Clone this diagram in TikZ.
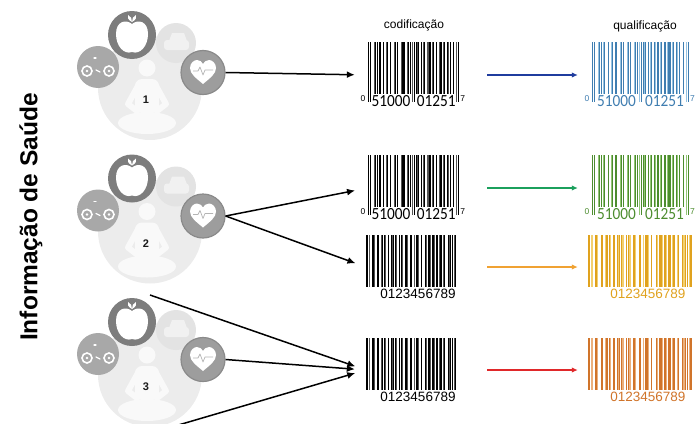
\documentclass[tikz,border=0pt]{standalone}
\usepackage{fontspec}
\setmainfont{Liberation Sans}
\newfontfamily\upcfont[FakeStretch=0.9]{Carlito}
\usetikzlibrary{arrows.meta}

% greys of the health badges
\definecolor{backdisc}{HTML}{ECECEC}
\definecolor{fadedisc}{HTML}{E3E3E3}
\definecolor{fadeicon}{HTML}{F1F1F1}
\definecolor{seatfig}{HTML}{F9F9F9}
\definecolor{applering}{HTML}{7D7D7D}
\definecolor{bikedisc}{HTML}{A8A8A8}
\definecolor{heartgray}{HTML}{9D9D9D}
\definecolor{heartring}{HTML}{8A8A8A}
\definecolor{pulsegray}{HTML}{B4B4B4}
\definecolor{numdark}{HTML}{1A1A1A}
% barcode inks
\definecolor{bcgray}{HTML}{555555}
\definecolor{bluedark}{HTML}{3F7DB0}
\definecolor{bluelight}{HTML}{94C2E2}
\definecolor{greendark}{HTML}{4C8C2E}
\definecolor{greenlight}{HTML}{92C674}
\definecolor{yellowdark}{HTML}{E0A21E}
\definecolor{yellowlight}{HTML}{F3D070}
\definecolor{orangedark}{HTML}{D0742A}
\definecolor{orangelight}{HTML}{EBB07C}
% arrow inks
\definecolor{arrblue}{HTML}{1F3C9E}
\definecolor{arrgreen}{HTML}{1BA05C}
\definecolor{arrorange}{HTML}{F0A232}
\definecolor{arrred}{HTML}{E0282A}

% ---- barcode drawing: one filled module per '1' in a bit string ----
\newcount\bcpos
\newcount\bcmod
\newif\ifbcguard
\def\bcbar{%
  \bcguardfalse
  \ifnum\bcupc=1\relax
    \ifnum\bcpos<3 \bcguardtrue\fi
    \ifnum\bcpos>44 \ifnum\bcpos<50 \bcguardtrue\fi\fi
    \ifnum\bcpos>91 \bcguardtrue\fi
  \fi
  \advance\bcmod by 1
  \ifnum\bcmod>2 \bcmod=0 \fi
  \ifnum\bcmod=0 \def\bccol{\bclight}\else\def\bccol{\bcdark}\fi
  \ifbcguard\def\bcht{\bcg}\else\def\bcht{\bch}\fi
  \fill[fill=\bccol] (\bcx+\the\bcpos*\bcm-0.05, \bcy) rectangle ++(\bcm+0.1, \bcht);%
}
\def\bcloop#1{\ifx\relax#1\else\ifnum#1=1 \bcbar\fi\advance\bcpos by 1 \expandafter\bcloop\fi}

% UPC-A 0 51000 01251 7 : x, top, module, dark ink, light ink, text ink, name
\newcommand\upcsymbol[7]{%
  \def\bcx{#1}\def\bcy{#2}\def\bcm{#3}\def\bch{52}\def\bcg{60}\def\bcupc{1}%
  \def\bcdark{#4}\def\bclight{#5}%
  \bcpos=0 \bcmod=0
  \bcloop 101 0001101 0110001 0011001 0001101 0001101 0001101 01010
          1110010 1100110 1101100 1001110 1100110 1000100 101\relax
  \node[upcdigits, text=#6] (#7-left) at (#1+24*#3, #2+59) {51000};
  \node[upcdigits, text=#6] (#7-right) at (#1+71*#3, #2+59) {01251};
  \node[upcsmall, text=#6] (#7-sys) at (#1-5, #2+57) {0};
  \node[upcsmall, text=#6] (#7-chk) at (#1+95*#3+3.5, #2+57) {7};
  \node[slot, minimum width=95*#3] (#7) at (#1+47.5*#3, #2+33) {};
}

% linear symbol for 0123456789 : x, top, module, dark ink, light ink, text ink, name
\newcommand\codesymbol[7]{%
  \def\bcx{#1}\def\bcy{#2}\def\bcm{#3}\def\bch{52}\def\bcg{52}\def\bcupc{0}%
  \def\bcdark{#4}\def\bclight{#5}%
  \bcpos=0 \bcmod=0
  \bcloop 11010011100 11001101100 10011101100 10110011100 11001011100
          10001101110 11101101110 1100011101011\relax
  \node[codedigits, text=#6] (#7-text) at (#1+52*#3, #2+59) {0123456789};
  \node[slot, minimum width=90*#3] (#7) at (#1+45*#3, #2+32) {};
}

% ---- one cluster of health badges around a seated figure ----
\newcommand\healthgroup[3]{%
  \begin{scope}[shift={(0,#1)}]
    % pale backdrop and the faded badge behind it
    \fill[backdisc] (150,88) circle (52pt);
    \fill[fadedisc] (176,43) circle (20pt);
    \fill[fadeicon, rounded corners=3pt] (164,40) rectangle (189,50);
    \fill[fadeicon] (169,41) -- (172,33) -- (184,33) -- (187,41) -- cycle;
    % seated figure
    \fill[seatfig] (147,68) circle (8.5pt);
    \fill[seatfig, rounded corners=7pt] (135,79) rectangle (159,113);
    \fill[seatfig] (147,123) ellipse (29pt and 11pt);
    \draw[seatfig, line width=6pt, line cap=round, line join=round]
      (139,84) -- (128,104) -- (137,111) (155,84) -- (166,104) -- (157,111);
    % bicycle badge
    \fill[bikedisc] (98,67) circle (21pt);
    \draw[white, line width=1.6pt] (87,71) circle (5pt) (109,71) circle (5pt);
    \fill[white] (87,71) circle (1.4pt) (109,71) circle (1.4pt);
    \draw[white, line width=1.3pt, line cap=round] (96,70) -- (100,72);
    \draw[white, line width=1.3pt, line cap=round] (94,58) -- (96,58);
    % apple badge
    \fill[applering] (132,35) circle (24pt);
    \fill[white] (132,24) .. controls (126,19) and (116,21) .. (116,34)
      .. controls (116,46) and (124,55) .. (132,52)
      .. controls (140,55) and (148,46) .. (148,34)
      .. controls (148,21) and (138,19) .. (132,24) -- cycle;
    \fill[white] (132,22) .. controls (128,20) and (127,17) .. (128,15)
      .. controls (131,16) and (132,19) .. (132,22) -- cycle;
    \fill[white] (132,22) .. controls (136,20) and (137,17) .. (136,15)
      .. controls (133,16) and (132,19) .. (132,22) -- cycle;
    % heart badge
    \node[heartbadge] (heart#3) at (203,72.5) {};
    \fill[white] (203,84) .. controls (196,78) and (190,74) .. (190,68)
      .. controls (190,63) and (194,60) .. (197,60)
      .. controls (200,60) and (202,62) .. (203,64)
      .. controls (204,62) and (206,60) .. (209,60)
      .. controls (212,60) and (216,63) .. (216,68)
      .. controls (216,74) and (210,78) .. (203,84) -- cycle;
    \draw[pulsegray, line width=0.7pt, line join=round]
      (193,71) -- (198,71) -- (200,67) -- (203,75) -- (205,70) -- (213,70);
    % group number
    \node[numlabel] (num#3) at (146,100) {#2};
  \end{scope}%
}

\begin{document}
\begin{tikzpicture}[x=1pt, y=-1pt,
  arrblack/.style={draw=black, line width=1.5pt, -{Latex[length=8pt,width=7pt]}},
  arrcol/.style={line width=1.4pt, -{Latex[length=6pt,width=5.5pt]}},
  heartbadge/.style={circle, inner sep=0pt, minimum size=44pt, fill=heartgray,
                     draw=heartring, line width=1.2pt},
  numlabel/.style={font=\bfseries\fontsize{11}{13}\selectfont, text=numdark, inner sep=0pt},
  slot/.style={rectangle, inner sep=0pt, minimum height=10pt},
  upcdigits/.style={font=\upcfont\fontsize{17}{18}\selectfont, inner sep=0pt},
  upcsmall/.style={font=\fontsize{8.5}{9}\selectfont, inner sep=0pt},
  codedigits/.style={font=\fontsize{13.5}{15}\selectfont, inner sep=0pt},
  caption/.style={font=\fontsize{12}{14}\selectfont, inner sep=0pt},
]
\useasboundingbox (0,0) rectangle (700,423);
\clip (0,0) rectangle (700,423);

% badge clusters
\healthgroup{0}{1}{1}
\healthgroup{143.5}{2}{2}
\healthgroup{287}{3}{3}

% column titles
\node[caption] (coding) at (414,25) {codificação};
\node[caption] (qualifying) at (645,26) {qualificação};

% coded symbols
\upcsymbol{368}{42}{0.96}{black}{bcgray}{black}{code1}
\upcsymbol{368}{155}{0.96}{black}{bcgray}{black}{code2}
\codesymbol{366}{235}{1.0}{black}{bcgray}{black}{code3}
\codesymbol{366}{338}{1.0}{black}{bcgray}{black}{code4}

% qualified symbols
\upcsymbol{592}{42}{1.02}{bluedark}{bluelight}{bluedark}{qual1}
\upcsymbol{592}{155}{1.02}{greendark}{greenlight}{greendark}{qual2}
\codesymbol{588}{235}{1.15}{yellowdark}{yellowlight}{yellowdark}{qual3}
\codesymbol{588}{338}{1.15}{orangedark}{orangelight}{orangedark}{qual4}

% free ends of the third cluster
\coordinate (g3top) at (150,295);
\coordinate (g3bot) at (175,426);

% information to coding
\draw[arrblack, shorten >=13pt] (heart1.east) -- (code1.west);
\draw[arrblack, shorten >=13pt] (heart2.east) -- (code2.west);
\draw[arrblack, shorten >=11pt] (heart2.east) -- (code3.west);
\draw[arrblack, shorten >=11pt] (g3top) -- (code4.west);
\draw[arrblack, shorten >=11pt] (heart3.east) -- (code4.west);
\draw[arrblack, shorten >=11pt] (g3bot) -- (code4.west);

% coding to qualification
\draw[arrcol, draw=arrblue, shorten <=28pt, shorten >=14pt] (code1.east) -- (qual1.west);
\draw[arrcol, draw=arrgreen, shorten <=28pt, shorten >=14pt] (code2.east) -- (qual2.west);
\draw[arrcol, draw=arrorange, shorten <=31pt, shorten >=10pt] (code3.east) -- (qual3.west);
\draw[arrcol, draw=arrred, shorten <=31pt, shorten >=10pt] (code4.east) -- (qual4.west);

% side title
\node[rotate=90, font=\bfseries\fontsize{24.5}{28}\selectfont, inner sep=0pt]
  (title) at (31,217) {Informação de Saúde};
\end{tikzpicture}
\end{document}
